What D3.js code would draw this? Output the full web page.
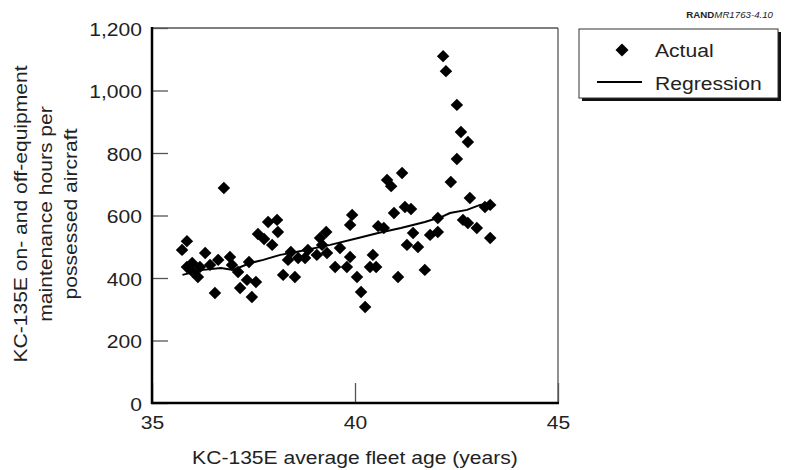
<!DOCTYPE html>
<html><head><meta charset="utf-8">
<script src="https://cdn.jsdelivr.net/npm/d3@7"></script>
<style>
html,body{margin:0;padding:0;background:#fff;}
svg text{font-family:"Liberation Sans",Arial,Helvetica,sans-serif;fill:#222;}
</style></head>
<body>
<svg id="c" width="785" height="470"></svg>
<script>
// ---- data ----
const ages = [35.74,35.86,35.86,35.99,36.01,36.13,36.18,36.31,36.43,36.55,36.63,36.77,36.92,36.97,37.12,37.17,37.34,37.39,37.46,37.56,
  37.61,37.76,37.86,37.96,38.08,38.10,38.23,38.52,38.42,38.35,38.60,38.84,38.77,39.06,39.14,39.29,39.31,39.19,39.51,39.63,
  39.80,39.88,39.88,39.93,40.05,40.15,40.25,40.37,40.52,40.44,40.57,40.71,40.79,40.89,41.16,40.96,41.23,41.38,41.06,41.43,
  41.28,41.55,41.72,41.85,42.04,42.04,42.17,42.24,42.36,42.51,42.51,42.61,42.78,42.83,42.66,42.78,43.00,43.20,43.33,43.33];
const hours = [490,518,435,448,419,403,435,480,442,352,458,688,467,442,419,368,394,451,339,387,
  541,525,579,506,586,547,410,403,483,458,464,490,464,474,528,547,480,506,435,496,
  435,467,570,602,403,355,307,435,435,474,566,560,714,694,736,608,627,621,403,544,
  506,499,426,538,547,592,1110,1062,707,954,781,867,835,656,586,576,560,627,634,528];
const regAges  = [35.75,36.26,36.70,37.00,37.42,37.74,38.16,38.55,39.39,40.08,40.57,41.13,41.72,42.12,42.34,42.76,43.08,43.40];
const regHours = [410,426,432,426,448,458,474,483,506,528,544,560,579,595,608,618,634,640];
const xTicks = [35,40,45];
const yTicks = [0,200,400,600,800,1000,1200];
const xTitle = "KC-135E average fleet age (years)";
const yTitle = ["KC-135E on- and off-equipment","maintenance hours per","possessed aircraft"];
const legendLabels = ["Actual","Regression"];
const sourceId = ["RAND","MR1763-4.10"];

// ---- layout ----
const SX = 1.14; // horizontal glyph stretch
const svg = d3.select("#c");
const x = d3.scaleLinear().domain([35,45]).range([152,558]);
const y = d3.scaleLinear().domain([0,1200]).range([403,28]);

// frame (top/right thin)
svg.append("line").attr("x1",x(35)).attr("x2",x(45)).attr("y1",y(1200)).attr("y2",y(1200)).attr("stroke","#555").attr("stroke-width",1.3);
svg.append("line").attr("x1",x(45)).attr("x2",x(45)).attr("y1",y(1200)).attr("y2",y(0)).attr("stroke","#555").attr("stroke-width",1.3);

// y axis
const ya = svg.append("g").attr("transform",`translate(${x(35)},0)`)
  .call(d3.axisLeft(y).tickValues(yTicks).tickSize(-16).tickPadding(10).tickFormat(d3.format(",")));
ya.select(".domain").remove();
ya.selectAll(".tick line").attr("stroke","#555").attr("stroke-width",1.3);
ya.selectAll(".tick text").attr("x",null).attr("dy",null)
  .attr("transform",`translate(-10,7) scale(${SX},1)`)
  .attr("text-anchor","end").style("font-size","18.5px").style("fill","#222");

// x axis
const xa = svg.append("g").attr("transform",`translate(0,${y(0)})`)
  .call(d3.axisBottom(x).tickValues(xTicks).tickSize(-20).tickPadding(0).tickFormat(d3.format("d")));
xa.select(".domain").remove();
xa.selectAll(".tick line").attr("stroke","#555").attr("stroke-width",1.3);
xa.selectAll(".tick text").attr("y",null).attr("dy",null)
  .attr("transform",`translate(0,26) scale(${SX},1)`)
  .attr("text-anchor","middle").style("font-size","18.5px").style("fill","#222");

// main axes thick lines
svg.append("line").attr("x1",x(35)).attr("x2",x(35)).attr("y1",y(1200)-1).attr("y2",y(0)+1).attr("stroke","#000").attr("stroke-width",2.5);
svg.append("line").attr("x1",x(35)-1).attr("x2",x(45)+1).attr("y1",y(0)).attr("y2",y(0)).attr("stroke","#000").attr("stroke-width",2.5);

// titles
svg.append("text").attr("transform",`translate(${(x(35)+x(45))/2},464) scale(${SX},1)`)
  .attr("text-anchor","middle").style("font-size","18.5px").text(xTitle);
const yBase = [27,52,77];
yTitle.forEach((t,i)=>{
  svg.append("text").attr("transform",`translate(${yBase[i]},214) rotate(-90) scale(${SX},1)`)
    .attr("text-anchor","middle").style("font-size","18.5px").text(t);
});

// regression line
const pts = ages.map((a,i)=>({a,h:hours[i]}));
const reg = regAges.map((a,i)=>({a,h:regHours[i]}));
svg.append("path").datum(reg)
  .attr("d",d3.line().x(d=>x(d.a)).y(d=>y(d.h)))
  .attr("fill","none").attr("stroke","#000").attr("stroke-width",2);

// points
const sym = d3.symbol().type(d3.symbolSquare).size(78);
svg.append("g").selectAll("path").data(pts).join("path")
  .attr("d",sym)
  .attr("transform",d=>`translate(${x(d.a)},${y(d.h)}) rotate(45)`)
  .attr("fill","#000");

// legend
const lg = svg.append("g");
lg.append("rect").attr("x",582).attr("y",32).attr("width",199).attr("height",69).attr("fill","#111");
lg.append("rect").attr("x",579).attr("y",29).attr("width",199).attr("height",69).attr("fill","#fff").attr("stroke","#333").attr("stroke-width",1);
lg.append("path").attr("d",d3.symbol().type(d3.symbolSquare).size(84)).attr("transform","translate(622,50) rotate(45)").attr("fill","#000");
lg.append("line").attr("x1",597).attr("x2",642).attr("y1",82).attr("y2",82).attr("stroke","#000").attr("stroke-width",2);
lg.append("text").attr("transform",`translate(655,57) scale(${SX},1)`).style("font-size","18.5px").text(legendLabels[0]);
lg.append("text").attr("transform",`translate(655,90) scale(${SX},1)`).style("font-size","18.5px").text(legendLabels[1]);

// source id
const st = svg.append("text").attr("transform",`translate(773,17.5) scale(${SX},1)`).attr("text-anchor","end")
  .style("font-size","8.5px").style("font-weight","bold");
st.append("tspan").text(sourceId[0]);
st.append("tspan").style("font-style","italic").style("font-weight","normal").text(sourceId[1]);
</script>
</body></html>
